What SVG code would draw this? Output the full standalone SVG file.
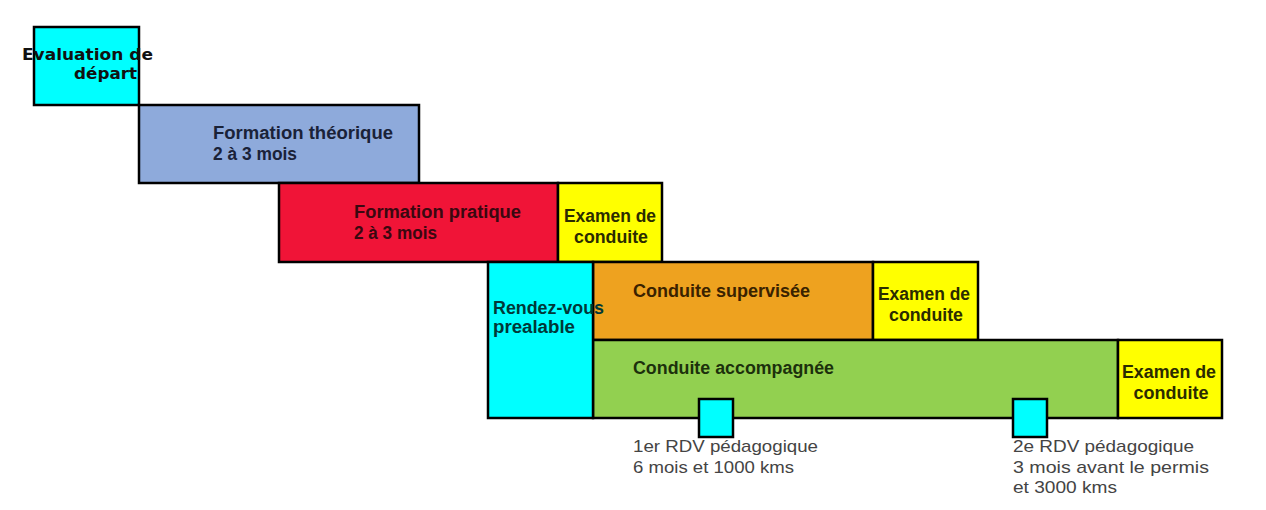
<svg xmlns="http://www.w3.org/2000/svg" width="1266" height="510" viewBox="0 0 1266 510">
<style>
rect{stroke:#000;stroke-width:2.5}
.b{font-family:"Liberation Sans",Arial,sans-serif;font-weight:bold;font-size:17.5px}
.e{font-family:"DejaVu Sans",Verdana,sans-serif;font-weight:bold;font-size:16.5px;fill:#111}
.n{font-family:"Liberation Sans",Arial,sans-serif;font-size:17px;fill:#444}
.c{text-anchor:middle}
.cy{fill:#00ffff}.bl{fill:#8eaadb}.rd{fill:#f01437}.ye{fill:#ffff00}.or{fill:#eea21f}.gr{fill:#92d050}
</style>
<rect x="0" y="0" width="1266" height="510" fill="#fff" style="stroke:none"/>
<g id="evaluation">
<rect class="cy" x="34" y="27" width="105" height="78"/>
<text class="e" x="22" y="60" textLength="131" lengthAdjust="spacingAndGlyphs">Evaluation de</text>
<text class="e" x="74" y="79" textLength="63" lengthAdjust="spacingAndGlyphs">départ</text>
</g>
<g id="formation-theorique">
<rect class="bl" x="139" y="105" width="280" height="78"/>
<text class="b" x="213" y="139" fill="#1a2238" textLength="180" lengthAdjust="spacingAndGlyphs">Formation théorique</text>
<text class="b" x="213" y="160" fill="#1a2238" textLength="84" lengthAdjust="spacingAndGlyphs">2 à 3 mois</text>
</g>
<g id="formation-pratique">
<rect class="rd" x="279" y="183" width="279" height="79"/>
<text class="b" x="354" y="218" fill="#3a0810" textLength="167" lengthAdjust="spacingAndGlyphs">Formation pratique</text>
<text class="b" x="354" y="239" fill="#3a0810" textLength="83" lengthAdjust="spacingAndGlyphs">2 à 3 mois</text>
</g>
<g id="examen-1">
<rect class="ye" x="558" y="183" width="104" height="79"/>
<text class="b c" x="610" y="222" fill="#2b2b00" textLength="92" lengthAdjust="spacingAndGlyphs">Examen de</text>
<text class="b c" x="611" y="243" fill="#2b2b00" textLength="74" lengthAdjust="spacingAndGlyphs">conduite</text>
</g>
<g id="conduite-supervisee">
<rect class="or" x="593" y="262" width="280" height="78"/>
<text class="b" x="633" y="297" fill="#3a2200" textLength="177" lengthAdjust="spacingAndGlyphs">Conduite supervisée</text>
</g>
<g id="examen-2">
<rect class="ye" x="873" y="262" width="105" height="78"/>
<text class="b c" x="924" y="300" fill="#2b2b00" textLength="92" lengthAdjust="spacingAndGlyphs">Examen de</text>
<text class="b c" x="926" y="321" fill="#2b2b00" textLength="74" lengthAdjust="spacingAndGlyphs">conduite</text>
</g>
<g id="conduite-accompagnee">
<rect class="gr" x="593" y="340" width="525" height="78"/>
<text class="b" x="633" y="374" fill="#1c300c" textLength="201" lengthAdjust="spacingAndGlyphs">Conduite accompagnée</text>
</g>
<g id="examen-3">
<rect class="ye" x="1118" y="340" width="104" height="78"/>
<text class="b c" x="1169" y="378" fill="#2b2b00" textLength="94" lengthAdjust="spacingAndGlyphs">Examen de</text>
<text class="b c" x="1171" y="399" fill="#2b2b00" textLength="75" lengthAdjust="spacingAndGlyphs">conduite</text>
</g>
<g id="rendez-vous">
<rect class="cy" x="488" y="262" width="105" height="156"/>
<text class="b" x="493" y="314" fill="#003838" textLength="111" lengthAdjust="spacingAndGlyphs">Rendez-vous</text>
<text class="b" x="493" y="333" fill="#003838" textLength="82" lengthAdjust="spacingAndGlyphs">prealable</text>
</g>
<g id="rdv-1">
<rect class="cy" x="699" y="399" width="34" height="38"/>
<text class="n" x="633" y="452" textLength="185" lengthAdjust="spacingAndGlyphs">1er RDV pédagogique</text>
<text class="n" x="633" y="473" textLength="161" lengthAdjust="spacingAndGlyphs">6 mois et 1000 kms</text>
</g>
<g id="rdv-2">
<rect class="cy" x="1013" y="399" width="34" height="38"/>
<text class="n" x="1013" y="452" textLength="181" lengthAdjust="spacingAndGlyphs">2e RDV pédagogique</text>
<text class="n" x="1013" y="473" textLength="196" lengthAdjust="spacingAndGlyphs">3 mois avant le permis</text>
<text class="n" x="1013" y="493" textLength="104" lengthAdjust="spacingAndGlyphs">et 3000 kms</text>
</g>
<g id="connectors"/>
</svg>
